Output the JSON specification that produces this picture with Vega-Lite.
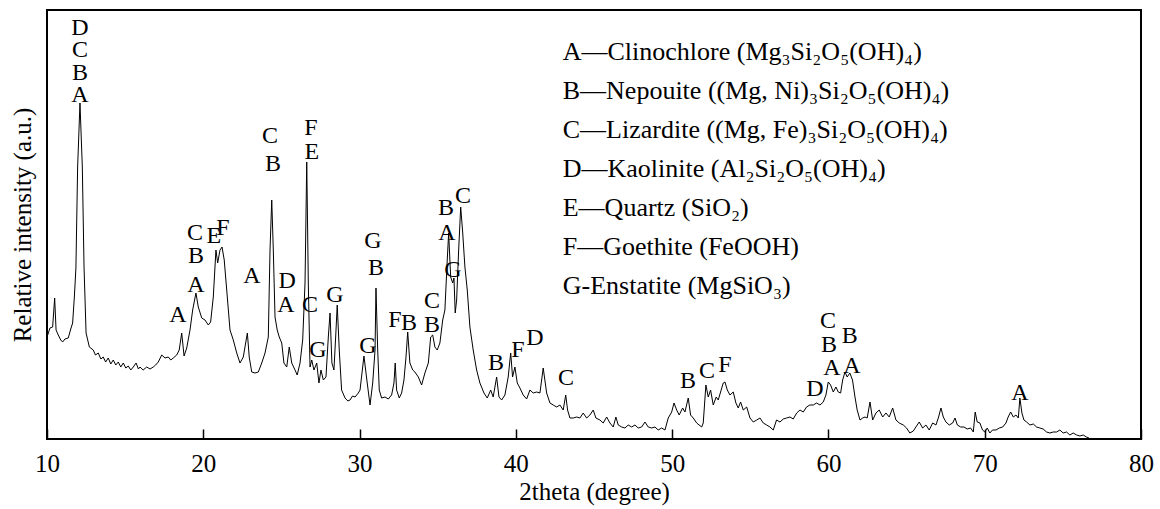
{
  "$schema": "https://vega.github.io/schema/vega-lite/v6.json",
  "width": 1094,
  "height": 429,
  "autosize": {"type": "none"},
  "padding": {"left": 47, "top": 10, "right": 19, "bottom": 70},
  "background": "white",
  "config": {
    "view": {"stroke": "black", "strokeWidth": 2},
    "font": "Liberation Serif",
    "axis": {"grid": false, "labelFont": "Liberation Serif", "titleFont": "Liberation Serif"},
    "text": {"font": "Liberation Serif"}
  },
  "datasets": {
    "xrd": [
      {"angle": 10.00, "intensity": 102}, {"angle": 10.19, "intensity": 111}, {"angle": 10.36, "intensity": 112},
      {"angle": 10.49, "intensity": 141}, {"angle": 10.58, "intensity": 109}, {"angle": 10.72, "intensity": 104},
      {"angle": 10.88, "intensity": 99}, {"angle": 11.00, "intensity": 97}, {"angle": 11.15, "intensity": 100},
      {"angle": 11.36, "intensity": 101}, {"angle": 11.52, "intensity": 110}, {"angle": 11.64, "intensity": 116},
      {"angle": 11.75, "intensity": 142}, {"angle": 11.85, "intensity": 171}, {"angle": 11.96, "intensity": 272},
      {"angle": 12.11, "intensity": 336}, {"angle": 12.26, "intensity": 272}, {"angle": 12.37, "intensity": 172},
      {"angle": 12.50, "intensity": 106}, {"angle": 12.71, "intensity": 92}, {"angle": 12.96, "intensity": 89},
      {"angle": 13.10, "intensity": 84}, {"angle": 13.28, "intensity": 86}, {"angle": 13.45, "intensity": 80},
      {"angle": 13.60, "intensity": 82}, {"angle": 13.75, "intensity": 77}, {"angle": 13.92, "intensity": 81},
      {"angle": 14.08, "intensity": 75}, {"angle": 14.24, "intensity": 79}, {"angle": 14.40, "intensity": 74},
      {"angle": 14.56, "intensity": 77}, {"angle": 14.72, "intensity": 72}, {"angle": 14.88, "intensity": 76},
      {"angle": 15.04, "intensity": 71}, {"angle": 15.20, "intensity": 73}, {"angle": 15.36, "intensity": 69},
      {"angle": 15.52, "intensity": 72}, {"angle": 15.70, "intensity": 76}, {"angle": 15.85, "intensity": 70},
      {"angle": 15.95, "intensity": 72}, {"angle": 16.15, "intensity": 69}, {"angle": 16.38, "intensity": 72},
      {"angle": 16.59, "intensity": 70}, {"angle": 16.80, "intensity": 72}, {"angle": 16.95, "intensity": 74},
      {"angle": 17.12, "intensity": 77}, {"angle": 17.34, "intensity": 84}, {"angle": 17.55, "intensity": 81},
      {"angle": 17.76, "intensity": 82}, {"angle": 17.92, "intensity": 79}, {"angle": 18.08, "intensity": 81},
      {"angle": 18.30, "intensity": 84}, {"angle": 18.46, "intensity": 89}, {"angle": 18.62, "intensity": 106},
      {"angle": 18.77, "intensity": 83}, {"angle": 18.94, "intensity": 91}, {"angle": 19.15, "intensity": 109},
      {"angle": 19.32, "intensity": 129}, {"angle": 19.53, "intensity": 146}, {"angle": 19.68, "intensity": 132},
      {"angle": 19.90, "intensity": 121}, {"angle": 20.11, "intensity": 119}, {"angle": 20.32, "intensity": 114},
      {"angle": 20.47, "intensity": 117}, {"angle": 20.64, "intensity": 142}, {"angle": 20.81, "intensity": 189},
      {"angle": 20.92, "intensity": 176}, {"angle": 21.07, "intensity": 189}, {"angle": 21.20, "intensity": 192},
      {"angle": 21.34, "intensity": 179}, {"angle": 21.50, "intensity": 149}, {"angle": 21.71, "intensity": 109},
      {"angle": 21.92, "intensity": 99}, {"angle": 22.14, "intensity": 86}, {"angle": 22.35, "intensity": 76},
      {"angle": 22.56, "intensity": 82}, {"angle": 22.82, "intensity": 106}, {"angle": 22.94, "intensity": 82},
      {"angle": 23.10, "intensity": 67}, {"angle": 23.31, "intensity": 66}, {"angle": 23.52, "intensity": 67},
      {"angle": 23.74, "intensity": 76}, {"angle": 23.95, "intensity": 86}, {"angle": 24.16, "intensity": 102},
      {"angle": 24.27, "intensity": 189}, {"angle": 24.38, "intensity": 239}, {"angle": 24.48, "intensity": 189},
      {"angle": 24.59, "intensity": 122}, {"angle": 24.73, "intensity": 109}, {"angle": 24.86, "intensity": 102},
      {"angle": 25.02, "intensity": 96}, {"angle": 25.16, "intensity": 76}, {"angle": 25.34, "intensity": 72},
      {"angle": 25.50, "intensity": 92}, {"angle": 25.66, "intensity": 76}, {"angle": 25.87, "intensity": 69},
      {"angle": 26.01, "intensity": 64}, {"angle": 26.19, "intensity": 76}, {"angle": 26.36, "intensity": 99},
      {"angle": 26.51, "intensity": 156}, {"angle": 26.62, "intensity": 277}, {"angle": 26.72, "intensity": 156},
      {"angle": 26.83, "intensity": 72}, {"angle": 26.94, "intensity": 79}, {"angle": 27.08, "intensity": 69},
      {"angle": 27.26, "intensity": 76}, {"angle": 27.40, "intensity": 56}, {"angle": 27.53, "intensity": 69},
      {"angle": 27.68, "intensity": 59}, {"angle": 27.85, "intensity": 62}, {"angle": 28.00, "intensity": 102},
      {"angle": 28.11, "intensity": 126}, {"angle": 28.23, "intensity": 76}, {"angle": 28.36, "intensity": 69},
      {"angle": 28.47, "intensity": 102}, {"angle": 28.57, "intensity": 134}, {"angle": 28.70, "intensity": 89},
      {"angle": 28.85, "intensity": 49}, {"angle": 29.07, "intensity": 41}, {"angle": 29.25, "intensity": 38},
      {"angle": 29.39, "intensity": 39}, {"angle": 29.55, "intensity": 43}, {"angle": 29.71, "intensity": 42},
      {"angle": 29.92, "intensity": 46}, {"angle": 30.03, "intensity": 49}, {"angle": 30.28, "intensity": 83},
      {"angle": 30.49, "intensity": 56}, {"angle": 30.67, "intensity": 34}, {"angle": 30.84, "intensity": 56},
      {"angle": 30.99, "intensity": 89}, {"angle": 31.05, "intensity": 151}, {"angle": 31.16, "intensity": 89},
      {"angle": 31.26, "intensity": 49}, {"angle": 31.41, "intensity": 41}, {"angle": 31.63, "intensity": 42},
      {"angle": 31.84, "intensity": 40}, {"angle": 32.05, "intensity": 44}, {"angle": 32.20, "intensity": 56},
      {"angle": 32.28, "intensity": 76}, {"angle": 32.37, "intensity": 49}, {"angle": 32.54, "intensity": 41},
      {"angle": 32.69, "intensity": 46}, {"angle": 32.84, "intensity": 59}, {"angle": 32.97, "intensity": 82},
      {"angle": 33.08, "intensity": 107}, {"angle": 33.22, "intensity": 76}, {"angle": 33.40, "intensity": 69},
      {"angle": 33.54, "intensity": 67}, {"angle": 33.76, "intensity": 62}, {"angle": 33.97, "intensity": 54},
      {"angle": 34.18, "intensity": 66}, {"angle": 34.40, "intensity": 76}, {"angle": 34.55, "intensity": 102},
      {"angle": 34.68, "intensity": 104}, {"angle": 34.82, "intensity": 92}, {"angle": 34.97, "intensity": 89},
      {"angle": 35.14, "intensity": 96}, {"angle": 35.32, "intensity": 119}, {"angle": 35.46, "intensity": 129},
      {"angle": 35.61, "intensity": 179}, {"angle": 35.70, "intensity": 206}, {"angle": 35.83, "intensity": 162},
      {"angle": 35.96, "intensity": 156}, {"angle": 36.04, "intensity": 161}, {"angle": 36.12, "intensity": 126},
      {"angle": 36.21, "intensity": 139}, {"angle": 36.34, "intensity": 189}, {"angle": 36.47, "intensity": 232},
      {"angle": 36.60, "intensity": 206}, {"angle": 36.74, "intensity": 172}, {"angle": 36.89, "intensity": 149},
      {"angle": 37.06, "intensity": 112}, {"angle": 37.27, "intensity": 89}, {"angle": 37.49, "intensity": 69},
      {"angle": 37.70, "intensity": 56}, {"angle": 37.96, "intensity": 46}, {"angle": 38.17, "intensity": 41},
      {"angle": 38.39, "intensity": 49}, {"angle": 38.55, "intensity": 42}, {"angle": 38.77, "intensity": 62},
      {"angle": 38.92, "intensity": 42}, {"angle": 39.09, "intensity": 39}, {"angle": 39.30, "intensity": 44},
      {"angle": 39.51, "intensity": 62}, {"angle": 39.67, "intensity": 86}, {"angle": 39.79, "intensity": 62},
      {"angle": 39.94, "intensity": 72}, {"angle": 40.09, "intensity": 56}, {"angle": 40.26, "intensity": 51},
      {"angle": 40.47, "intensity": 44}, {"angle": 40.69, "intensity": 40}, {"angle": 40.90, "intensity": 49},
      {"angle": 41.11, "intensity": 46}, {"angle": 41.33, "intensity": 47}, {"angle": 41.54, "intensity": 46},
      {"angle": 41.75, "intensity": 71}, {"angle": 41.97, "intensity": 46}, {"angle": 42.18, "intensity": 36},
      {"angle": 42.39, "intensity": 34}, {"angle": 42.61, "intensity": 32}, {"angle": 42.82, "intensity": 34},
      {"angle": 43.03, "intensity": 29}, {"angle": 43.19, "intensity": 44}, {"angle": 43.31, "intensity": 29},
      {"angle": 43.46, "intensity": 21}, {"angle": 43.67, "intensity": 21}, {"angle": 43.89, "intensity": 22},
      {"angle": 44.10, "intensity": 21}, {"angle": 44.31, "intensity": 26}, {"angle": 44.53, "intensity": 21},
      {"angle": 44.74, "intensity": 24}, {"angle": 44.95, "intensity": 29}, {"angle": 45.12, "intensity": 21},
      {"angle": 45.38, "intensity": 19}, {"angle": 45.59, "intensity": 16}, {"angle": 45.81, "intensity": 22},
      {"angle": 46.02, "intensity": 16}, {"angle": 46.23, "intensity": 12}, {"angle": 46.40, "intensity": 22},
      {"angle": 46.55, "intensity": 14}, {"angle": 46.77, "intensity": 12}, {"angle": 46.98, "intensity": 11},
      {"angle": 47.19, "intensity": 14}, {"angle": 47.41, "intensity": 12}, {"angle": 47.62, "intensity": 14},
      {"angle": 47.83, "intensity": 11}, {"angle": 48.05, "intensity": 12}, {"angle": 48.26, "intensity": 17},
      {"angle": 48.47, "intensity": 12}, {"angle": 48.69, "intensity": 11}, {"angle": 48.90, "intensity": 12},
      {"angle": 49.11, "intensity": 9}, {"angle": 49.33, "intensity": 11}, {"angle": 49.54, "intensity": 9},
      {"angle": 49.75, "intensity": 21}, {"angle": 49.97, "intensity": 27}, {"angle": 50.12, "intensity": 36},
      {"angle": 50.29, "intensity": 29}, {"angle": 50.45, "intensity": 24}, {"angle": 50.67, "intensity": 31},
      {"angle": 50.82, "intensity": 27}, {"angle": 51.03, "intensity": 41}, {"angle": 51.18, "intensity": 24},
      {"angle": 51.35, "intensity": 21}, {"angle": 51.57, "intensity": 16}, {"angle": 51.89, "intensity": 12},
      {"angle": 51.99, "intensity": 16}, {"angle": 52.16, "intensity": 54}, {"angle": 52.31, "intensity": 42},
      {"angle": 52.46, "intensity": 49}, {"angle": 52.63, "intensity": 34}, {"angle": 52.82, "intensity": 42},
      {"angle": 52.95, "intensity": 39}, {"angle": 53.10, "intensity": 47}, {"angle": 53.27, "intensity": 56},
      {"angle": 53.38, "intensity": 57}, {"angle": 53.53, "intensity": 49}, {"angle": 53.70, "intensity": 44},
      {"angle": 53.91, "intensity": 47}, {"angle": 54.08, "intensity": 36}, {"angle": 54.23, "intensity": 31},
      {"angle": 54.38, "intensity": 37}, {"angle": 54.55, "intensity": 29}, {"angle": 54.77, "intensity": 32},
      {"angle": 54.98, "intensity": 21}, {"angle": 55.19, "intensity": 17}, {"angle": 55.41, "intensity": 19},
      {"angle": 55.62, "intensity": 21}, {"angle": 55.83, "intensity": 16}, {"angle": 56.05, "intensity": 14},
      {"angle": 56.26, "intensity": 12}, {"angle": 56.47, "intensity": 9}, {"angle": 56.68, "intensity": 19},
      {"angle": 56.90, "intensity": 17}, {"angle": 57.11, "intensity": 20}, {"angle": 57.32, "intensity": 21},
      {"angle": 57.54, "intensity": 22}, {"angle": 57.75, "intensity": 20}, {"angle": 57.97, "intensity": 26},
      {"angle": 58.18, "intensity": 29}, {"angle": 58.39, "intensity": 27}, {"angle": 58.60, "intensity": 32},
      {"angle": 58.81, "intensity": 34}, {"angle": 59.03, "intensity": 34}, {"angle": 59.24, "intensity": 36},
      {"angle": 59.46, "intensity": 34}, {"angle": 59.67, "intensity": 37}, {"angle": 59.84, "intensity": 44},
      {"angle": 59.99, "intensity": 57}, {"angle": 60.14, "intensity": 54}, {"angle": 60.31, "intensity": 47},
      {"angle": 60.48, "intensity": 52}, {"angle": 60.63, "intensity": 47}, {"angle": 60.78, "intensity": 46},
      {"angle": 60.91, "intensity": 59}, {"angle": 61.06, "intensity": 67}, {"angle": 61.20, "intensity": 62},
      {"angle": 61.37, "intensity": 66}, {"angle": 61.54, "intensity": 59}, {"angle": 61.70, "intensity": 42},
      {"angle": 61.84, "intensity": 29}, {"angle": 62.02, "intensity": 19}, {"angle": 62.19, "intensity": 21},
      {"angle": 62.34, "intensity": 22}, {"angle": 62.48, "intensity": 21}, {"angle": 62.66, "intensity": 37},
      {"angle": 62.83, "intensity": 19}, {"angle": 63.04, "intensity": 26}, {"angle": 63.25, "intensity": 29},
      {"angle": 63.47, "intensity": 22}, {"angle": 63.68, "intensity": 26}, {"angle": 63.89, "intensity": 22},
      {"angle": 64.11, "intensity": 31}, {"angle": 64.32, "intensity": 19}, {"angle": 64.53, "intensity": 16},
      {"angle": 64.79, "intensity": 14}, {"angle": 65.00, "intensity": 11}, {"angle": 65.21, "intensity": 6},
      {"angle": 65.43, "intensity": 8}, {"angle": 65.64, "intensity": 13}, {"angle": 65.81, "intensity": 17},
      {"angle": 66.03, "intensity": 11}, {"angle": 66.24, "intensity": 14}, {"angle": 66.45, "intensity": 9},
      {"angle": 66.67, "intensity": 16}, {"angle": 66.88, "intensity": 14}, {"angle": 67.03, "intensity": 21},
      {"angle": 67.20, "intensity": 31}, {"angle": 67.35, "intensity": 22}, {"angle": 67.52, "intensity": 17},
      {"angle": 67.73, "intensity": 14}, {"angle": 67.95, "intensity": 16}, {"angle": 68.10, "intensity": 21},
      {"angle": 68.25, "intensity": 14}, {"angle": 68.46, "intensity": 12}, {"angle": 68.67, "intensity": 12},
      {"angle": 68.88, "intensity": 10}, {"angle": 69.10, "intensity": 11}, {"angle": 69.27, "intensity": 7},
      {"angle": 69.39, "intensity": 27}, {"angle": 69.52, "intensity": 17}, {"angle": 69.69, "intensity": 16},
      {"angle": 69.86, "intensity": 9}, {"angle": 70.01, "intensity": 7}, {"angle": 70.16, "intensity": 11},
      {"angle": 70.33, "intensity": 6}, {"angle": 70.50, "intensity": 9}, {"angle": 70.72, "intensity": 9},
      {"angle": 70.93, "intensity": 11}, {"angle": 71.15, "intensity": 12}, {"angle": 71.36, "intensity": 16},
      {"angle": 71.50, "intensity": 22}, {"angle": 71.66, "intensity": 27}, {"angle": 71.83, "intensity": 22},
      {"angle": 72.00, "intensity": 24}, {"angle": 72.15, "intensity": 21}, {"angle": 72.25, "intensity": 41},
      {"angle": 72.38, "intensity": 26}, {"angle": 72.51, "intensity": 19}, {"angle": 72.68, "intensity": 17},
      {"angle": 72.89, "intensity": 14}, {"angle": 73.11, "intensity": 15}, {"angle": 73.32, "intensity": 12},
      {"angle": 73.53, "intensity": 11}, {"angle": 73.74, "intensity": 10}, {"angle": 73.96, "intensity": 7},
      {"angle": 74.17, "intensity": 6}, {"angle": 74.38, "intensity": 7}, {"angle": 74.60, "intensity": 7},
      {"angle": 74.81, "intensity": 9}, {"angle": 75.02, "intensity": 6}, {"angle": 75.24, "intensity": 7},
      {"angle": 75.45, "intensity": 4}, {"angle": 75.66, "intensity": 6}, {"angle": 75.88, "intensity": 4},
      {"angle": 76.09, "intensity": 3}, {"angle": 76.30, "intensity": 4}, {"angle": 76.51, "intensity": 2},
      {"angle": 76.67, "intensity": 1}
    ],
    "peaks": [
      {"angle": 12.11, "intensity": 404, "phase": "D"},
      {"angle": 12.11, "intensity": 382, "phase": "C"},
      {"angle": 12.11, "intensity": 359, "phase": "B"},
      {"angle": 12.11, "intensity": 337, "phase": "A"},
      {"angle": 18.38, "intensity": 117, "phase": "A"},
      {"angle": 19.53, "intensity": 147, "phase": "A"},
      {"angle": 19.53, "intensity": 176, "phase": "B"},
      {"angle": 19.47, "intensity": 199, "phase": "C"},
      {"angle": 20.68, "intensity": 196, "phase": "E"},
      {"angle": 21.26, "intensity": 204, "phase": "F"},
      {"angle": 23.12, "intensity": 156, "phase": "A"},
      {"angle": 24.46, "intensity": 268, "phase": "B"},
      {"angle": 24.27, "intensity": 296, "phase": "C"},
      {"angle": 25.36, "intensity": 151, "phase": "D"},
      {"angle": 25.29, "intensity": 127, "phase": "A"},
      {"angle": 26.89, "intensity": 304, "phase": "F"},
      {"angle": 26.95, "intensity": 280, "phase": "E"},
      {"angle": 26.83, "intensity": 127, "phase": "C"},
      {"angle": 27.34, "intensity": 82, "phase": "G"},
      {"angle": 28.43, "intensity": 137, "phase": "G"},
      {"angle": 30.54, "intensity": 86, "phase": "G"},
      {"angle": 30.86, "intensity": 191, "phase": "G"},
      {"angle": 31.05, "intensity": 164, "phase": "B"},
      {"angle": 32.26, "intensity": 112, "phase": "F"},
      {"angle": 33.16, "intensity": 109, "phase": "B"},
      {"angle": 34.63, "intensity": 131, "phase": "C"},
      {"angle": 34.63, "intensity": 107, "phase": "B"},
      {"angle": 35.53, "intensity": 224, "phase": "B"},
      {"angle": 35.59, "intensity": 199, "phase": "A"},
      {"angle": 35.98, "intensity": 162, "phase": "G"},
      {"angle": 36.62, "intensity": 236, "phase": "C"},
      {"angle": 38.73, "intensity": 69, "phase": "B"},
      {"angle": 40.13, "intensity": 82, "phase": "F"},
      {"angle": 41.22, "intensity": 94, "phase": "D"},
      {"angle": 43.21, "intensity": 54, "phase": "C"},
      {"angle": 51.01, "intensity": 51, "phase": "B"},
      {"angle": 52.23, "intensity": 61, "phase": "C"},
      {"angle": 53.38, "intensity": 67, "phase": "F"},
      {"angle": 59.14, "intensity": 43, "phase": "D"},
      {"angle": 60.22, "intensity": 64, "phase": "A"},
      {"angle": 60.03, "intensity": 87, "phase": "B"},
      {"angle": 59.97, "intensity": 111, "phase": "C"},
      {"angle": 61.37, "intensity": 96, "phase": "B"},
      {"angle": 61.50, "intensity": 66, "phase": "A"},
      {"angle": 72.25, "intensity": 39, "phase": "A"}
    ],
    "key": [
      {"angle": 43.0, "intensity": 379, "entry": "A—Clinochlore (Mg₃Si₂O₅(OH)₄)"},
      {"angle": 43.0, "intensity": 340, "entry": "B—Nepouite ((Mg, Ni)₃Si₂O₅(OH)₄)"},
      {"angle": 43.0, "intensity": 301, "entry": "C—Lizardite ((Mg, Fe)₃Si₂O₅(OH)₄)"},
      {"angle": 43.0, "intensity": 262, "entry": "D—Kaolinite (Al₂Si₂O₅(OH)₄)"},
      {"angle": 43.0, "intensity": 223, "entry": "E—Quartz (SiO₂)"},
      {"angle": 43.0, "intensity": 184, "entry": "F—Goethite (FeOOH)"},
      {"angle": 43.0, "intensity": 145, "entry": "G-Enstatite (MgSiO₃)"}
    ]
  },
  "layer": [
    {
      "data": {"name": "xrd"},
      "mark": {"type": "line", "color": "black", "strokeWidth": 1},
      "encoding": {
        "x": {
          "field": "angle", "type": "quantitative",
          "scale": {"domain": [10, 80], "nice": false, "zero": false},
          "axis": {
            "title": "2theta (degree)",
            "values": [10, 20, 30, 40, 50, 60, 70, 80],
            "format": "d",
            "domain": false,
            "tickSize": -10, "tickColor": "black", "tickWidth": 1.5,
            "labelPadding": 22, "labelFontSize": 25, "labelColor": "black",
            "labelFlush": false, "labelOverlap": false,
            "titleFontSize": 25, "titleFontWeight": "normal", "titleColor": "black",
            "titlePadding": 3
          }
        },
        "y": {
          "field": "intensity", "type": "quantitative",
          "scale": {"domain": [0, 429], "nice": false},
          "axis": {
            "title": "Relative intensity (a.u.)",
            "ticks": false, "labels": false, "domain": false,
            "titleFontSize": 25, "titleFontWeight": "normal", "titleColor": "black",
            "titlePadding": 12
          }
        }
      }
    },
    {
      "data": {"name": "peaks"},
      "mark": {"type": "text", "fontSize": 24, "align": "center", "baseline": "alphabetic", "color": "black", "font": "Liberation Serif"},
      "encoding": {
        "x": {"field": "angle", "type": "quantitative"},
        "y": {"field": "intensity", "type": "quantitative"},
        "text": {"field": "phase"}
      }
    },
    {
      "data": {"name": "key"},
      "mark": {"type": "text", "fontSize": 26, "align": "left", "baseline": "alphabetic", "color": "black", "font": "Liberation Serif"},
      "encoding": {
        "x": {"field": "angle", "type": "quantitative"},
        "y": {"field": "intensity", "type": "quantitative"},
        "text": {"field": "entry"}
      }
    }
  ]
}
